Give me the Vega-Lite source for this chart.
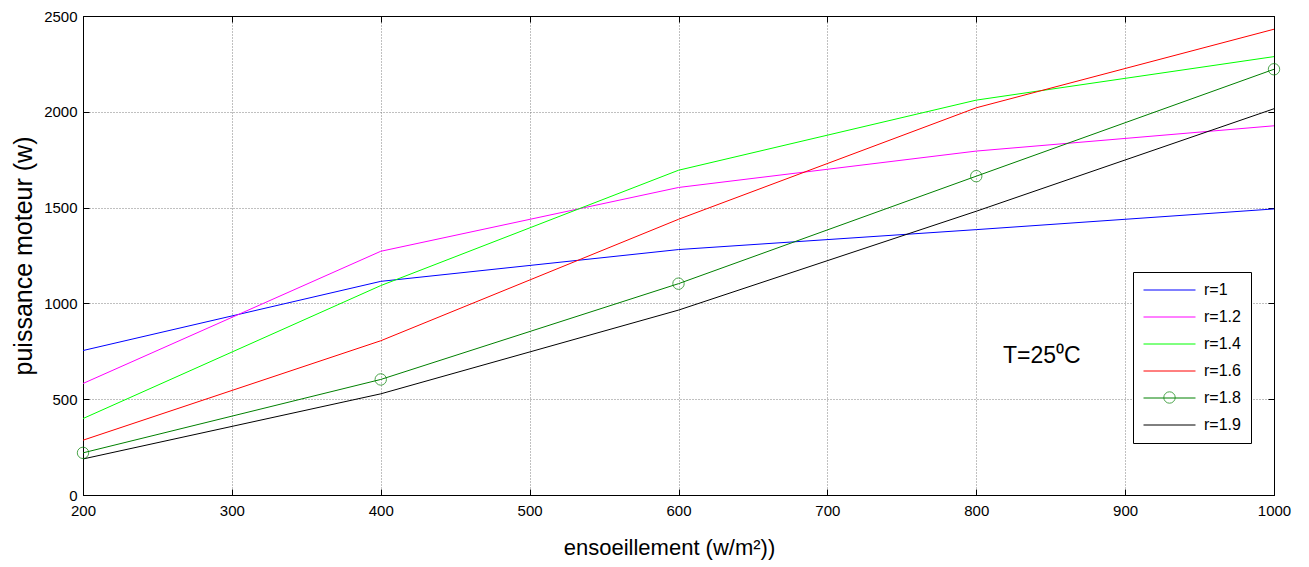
{
  "$schema": "https://vega.github.io/schema/vega-lite/v6.json",
  "autosize": {"type": "none"},
  "width": 1191,
  "height": 479,
  "padding": {"left": 83, "top": 16, "right": 35, "bottom": 72},
  "background": "white",
  "config": {
    "view": {"stroke": "black", "strokeWidth": 1},
    "font": "Liberation Sans",
    "axis": {
      "domainColor": "black",
      "tickColor": "black",
      "labelColor": "black",
      "titleColor": "black",
      "labelFont": "Liberation Sans",
      "titleFont": "Liberation Sans",
      "labelFontSize": 15,
      "titleFontWeight": "normal",
      "gridColor": "#808080",
      "gridDash": [1, 2],
      "gridOpacity": 1,
      "gridWidth": 1
    }
  },
  "datasets": {
    "pts": [
      {"x": 200, "r": "r=1", "p": 754},
      {"x": 400, "r": "r=1", "p": 1115},
      {"x": 600, "r": "r=1", "p": 1281},
      {"x": 800, "r": "r=1", "p": 1385},
      {"x": 1000, "r": "r=1", "p": 1493},
      {"x": 200, "r": "r=1.2", "p": 582},
      {"x": 400, "r": "r=1.2", "p": 1272},
      {"x": 600, "r": "r=1.2", "p": 1605},
      {"x": 800, "r": "r=1.2", "p": 1795},
      {"x": 1000, "r": "r=1.2", "p": 1927},
      {"x": 200, "r": "r=1.4", "p": 399},
      {"x": 400, "r": "r=1.4", "p": 1093},
      {"x": 600, "r": "r=1.4", "p": 1695},
      {"x": 800, "r": "r=1.4", "p": 2061},
      {"x": 1000, "r": "r=1.4", "p": 2288},
      {"x": 200, "r": "r=1.6", "p": 286},
      {"x": 400, "r": "r=1.6", "p": 805},
      {"x": 600, "r": "r=1.6", "p": 1439},
      {"x": 800, "r": "r=1.6", "p": 2021},
      {"x": 1000, "r": "r=1.6", "p": 2431},
      {"x": 200, "r": "r=1.8", "p": 220},
      {"x": 400, "r": "r=1.8", "p": 603},
      {"x": 600, "r": "r=1.8", "p": 1103},
      {"x": 800, "r": "r=1.8", "p": 1664},
      {"x": 1000, "r": "r=1.8", "p": 2222},
      {"x": 200, "r": "r=1.9", "p": 188},
      {"x": 400, "r": "r=1.9", "p": 528},
      {"x": 600, "r": "r=1.9", "p": 965},
      {"x": 800, "r": "r=1.9", "p": 1481},
      {"x": 1000, "r": "r=1.9", "p": 2016}
    ],
    "note": [{"x": 818, "p": 690, "label": "T=25⁰C"}]
  },
  "resolve": {"axis": {"x": "independent", "y": "independent"}},
  "layer": [
    {
      "data": {"name": "pts"},
      "mark": {"type": "line", "strokeWidth": 1, "clip": true},
      "encoding": {
        "x": {
          "field": "x", "type": "quantitative",
          "scale": {"domain": [200, 1000], "nice": false, "zero": false},
          "axis": {
            "title": "ensoeillement (w/m²))",
            "titleFontSize": 22,
            "titlePadding": 19,
            "titleX": 586,
            "values": [200, 300, 400, 500, 600, 700, 800, 900, 1000],
            "format": "d",
            "grid": true,
            "tickSize": -6,
            "labelPadding": 14,
            "labelFlush": false
          }
        },
        "y": {
          "field": "p", "type": "quantitative",
          "scale": {"domain": [0, 2500], "nice": false},
          "axis": {
            "title": "puissance moteur (w)",
            "titleFontSize": 25,
            "titlePadding": 7,
            "values": [0, 500, 1000, 1500, 2000, 2500],
            "format": "d",
            "grid": true,
            "tickSize": -6,
            "labelPadding": 12
          }
        },
        "color": {
          "field": "r", "type": "nominal",
          "scale": {
            "domain": ["r=1", "r=1.2", "r=1.4", "r=1.6", "r=1.8", "r=1.9"],
            "range": ["#0000FF", "#FF00FF", "#00FF00", "#FF0000", "#008000", "#000000"]
          },
          "legend": {
            "title": null,
            "orient": "none",
            "legendX": 1050,
            "legendY": 256,
            "direction": "vertical",
            "symbolType": "stroke",
            "symbolSize": 2704,
            "symbolStrokeWidth": 1,
            "clipHeight": 16,
            "labelFontSize": 16,
            "labelFont": "Liberation Sans",
            "labelColor": "black",
            "labelOffset": 8,
            "rowPadding": 11,
            "padding": 10,
            "strokeColor": "black",
            "fillColor": "white",
            "zindex": 1
          }
        }
      }
    },
    {
      "data": {"name": "pts"},
      "transform": [{"filter": "datum.r == 'r=1.8'"}],
      "mark": {"type": "point", "filled": false, "size": 130, "strokeWidth": 1, "color": "#008000", "clip": false},
      "encoding": {
        "x": {"field": "x", "type": "quantitative", "axis": {"orient": "top", "title": null, "labels": false, "grid": false, "tickSize": -6, "values": [200, 300, 400, 500, 600, 700, 800, 900, 1000], "domainColor": "black"}},
        "y": {"field": "p", "type": "quantitative", "axis": {"orient": "right", "title": null, "labels": false, "grid": false, "tickSize": -6, "values": [0, 500, 1000, 1500, 2000, 2500], "domainColor": "black"}},
        "shape": {
          "field": "r", "type": "nominal",
          "scale": {"domain": ["r=1.8"], "range": ["circle"]},
          "legend": {
            "title": null,
            "orient": "none",
            "legendX": 1080,
            "legendY": 375,
            "padding": 0,
            "labelExpr": "''",
            "labelFontSize": 1,
            "labelOffset": 0,
            "symbolSize": 130,
            "symbolStrokeColor": "#008000",
            "symbolFillColor": "transparent",
            "symbolStrokeWidth": 1,
            "zindex": 2
          }
        }
      }
    },
    {
      "data": {"name": "note"},
      "mark": {"type": "text", "align": "left", "baseline": "alphabetic", "fontSize": 23, "font": "Liberation Sans", "color": "black"},
      "encoding": {
        "x": {"field": "x", "type": "quantitative", "axis": null},
        "y": {"field": "p", "type": "quantitative", "axis": null},
        "text": {"field": "label"}
      }
    }
  ]
}
